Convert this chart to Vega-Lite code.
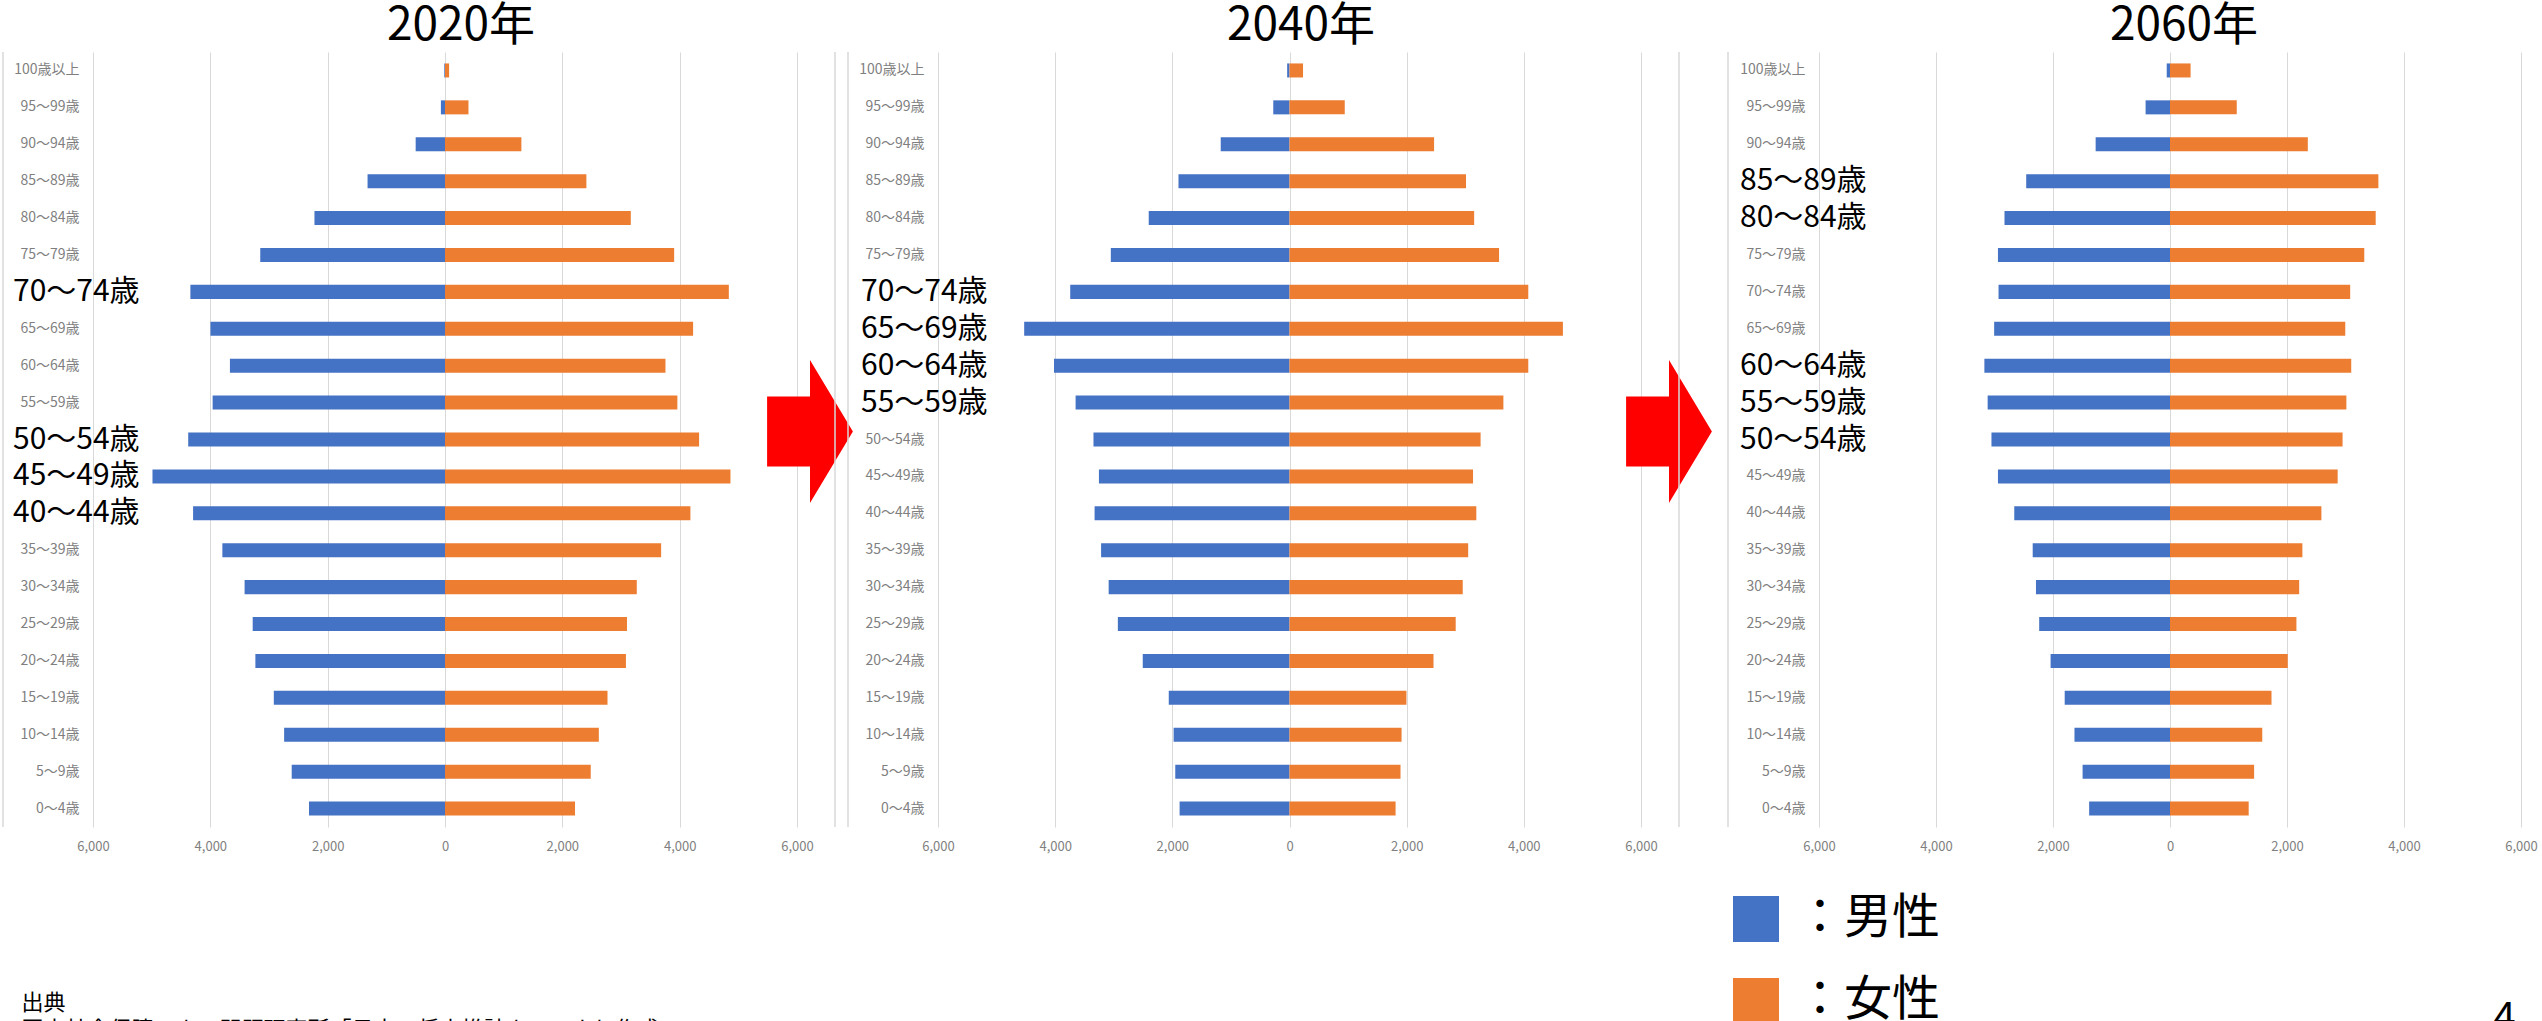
{
  "$schema": "https://vega.github.io/schema/vega-lite/v6.json",
  "autosize": {"type": "none"},
  "padding": {"left": 93, "top": 52, "right": 2449, "bottom": 194},
  "background": "white",
  "config": {
    "font": "Noto Sans CJK JP",
    "view": {"stroke": null},
    "title": {"fontSize": 46, "fontWeight": "normal", "color": "black", "baseline": "alphabetic", "offset": 1, "anchor": "middle", "frame": "group"}
  },
  "datasets": {
    "pop": [
      {"year": 2020, "age": "100歳以上", "sex": "男性", "value": -12},
      {"year": 2020, "age": "100歳以上", "sex": "女性", "value": 70},
      {"year": 2020, "age": "95～99歳", "sex": "男性", "value": -70},
      {"year": 2020, "age": "95～99歳", "sex": "女性", "value": 400},
      {"year": 2020, "age": "90～94歳", "sex": "男性", "value": -500},
      {"year": 2020, "age": "90～94歳", "sex": "女性", "value": 1302},
      {"year": 2020, "age": "85～89歳", "sex": "男性", "value": -1320},
      {"year": 2020, "age": "85～89歳", "sex": "女性", "value": 2410},
      {"year": 2020, "age": "80～84歳", "sex": "男性", "value": -2225},
      {"year": 2020, "age": "80～84歳", "sex": "女性", "value": 3167},
      {"year": 2020, "age": "75～79歳", "sex": "男性", "value": -3149},
      {"year": 2020, "age": "75～79歳", "sex": "女性", "value": 3906},
      {"year": 2020, "age": "70～74歳", "sex": "男性", "value": -4340},
      {"year": 2020, "age": "70～74歳", "sex": "女性", "value": 4838},
      {"year": 2020, "age": "65～69歳", "sex": "男性", "value": -3998},
      {"year": 2020, "age": "65～69歳", "sex": "女性", "value": 4229},
      {"year": 2020, "age": "60～64歳", "sex": "男性", "value": -3666},
      {"year": 2020, "age": "60～64歳", "sex": "女性", "value": 3758},
      {"year": 2020, "age": "55～59歳", "sex": "男性", "value": -3961},
      {"year": 2020, "age": "55～59歳", "sex": "女性", "value": 3961},
      {"year": 2020, "age": "50～54歳", "sex": "男性", "value": -4377},
      {"year": 2020, "age": "50～54歳", "sex": "女性", "value": 4331},
      {"year": 2020, "age": "45～49歳", "sex": "男性", "value": -4986},
      {"year": 2020, "age": "45～49歳", "sex": "女性", "value": 4866},
      {"year": 2020, "age": "40～44歳", "sex": "男性", "value": -4294},
      {"year": 2020, "age": "40～44歳", "sex": "女性", "value": 4183},
      {"year": 2020, "age": "35～39歳", "sex": "男性", "value": -3795},
      {"year": 2020, "age": "35～39歳", "sex": "女性", "value": 3684},
      {"year": 2020, "age": "30～34歳", "sex": "男性", "value": -3416},
      {"year": 2020, "age": "30～34歳", "sex": "女性", "value": 3269},
      {"year": 2020, "age": "25～29歳", "sex": "男性", "value": -3278},
      {"year": 2020, "age": "25～29歳", "sex": "女性", "value": 3102},
      {"year": 2020, "age": "20～24歳", "sex": "男性", "value": -3232},
      {"year": 2020, "age": "20～24歳", "sex": "女性", "value": 3084},
      {"year": 2020, "age": "15～19歳", "sex": "男性", "value": -2918},
      {"year": 2020, "age": "15～19歳", "sex": "女性", "value": 2770},
      {"year": 2020, "age": "10～14歳", "sex": "男性", "value": -2742},
      {"year": 2020, "age": "10～14歳", "sex": "女性", "value": 2622},
      {"year": 2020, "age": "5～9歳", "sex": "男性", "value": -2613},
      {"year": 2020, "age": "5～9歳", "sex": "女性", "value": 2484},
      {"year": 2020, "age": "0～4歳", "sex": "男性", "value": -2318},
      {"year": 2020, "age": "0～4歳", "sex": "女性", "value": 2216},
      {"year": 2040, "age": "100歳以上", "sex": "男性", "value": -40},
      {"year": 2040, "age": "100歳以上", "sex": "女性", "value": 231},
      {"year": 2040, "age": "95～99歳", "sex": "男性", "value": -277},
      {"year": 2040, "age": "95～99歳", "sex": "女性", "value": 943},
      {"year": 2040, "age": "90～94歳", "sex": "男性", "value": -1174},
      {"year": 2040, "age": "90～94歳", "sex": "女性", "value": 2468},
      {"year": 2040, "age": "85～89歳", "sex": "男性", "value": -1895},
      {"year": 2040, "age": "85～89歳", "sex": "女性", "value": 3013},
      {"year": 2040, "age": "80～84歳", "sex": "男性", "value": -2403},
      {"year": 2040, "age": "80～84歳", "sex": "女性", "value": 3152},
      {"year": 2040, "age": "75～79歳", "sex": "男性", "value": -3050},
      {"year": 2040, "age": "75～79歳", "sex": "女性", "value": 3577},
      {"year": 2040, "age": "70～74歳", "sex": "男性", "value": -3743},
      {"year": 2040, "age": "70～74歳", "sex": "女性", "value": 4076},
      {"year": 2040, "age": "65～69歳", "sex": "男性", "value": -4529},
      {"year": 2040, "age": "65～69歳", "sex": "女性", "value": 4667},
      {"year": 2040, "age": "60～64歳", "sex": "男性", "value": -4020},
      {"year": 2040, "age": "60～64歳", "sex": "女性", "value": 4076},
      {"year": 2040, "age": "55～59歳", "sex": "男性", "value": -3651},
      {"year": 2040, "age": "55～59歳", "sex": "女性", "value": 3651},
      {"year": 2040, "age": "50～54歳", "sex": "男性", "value": -3346},
      {"year": 2040, "age": "50～54歳", "sex": "女性", "value": 3262},
      {"year": 2040, "age": "45～49歳", "sex": "男性", "value": -3253},
      {"year": 2040, "age": "45～49歳", "sex": "女性", "value": 3133},
      {"year": 2040, "age": "40～44歳", "sex": "男性", "value": -3327},
      {"year": 2040, "age": "40～44歳", "sex": "女性", "value": 3189},
      {"year": 2040, "age": "35～39歳", "sex": "男性", "value": -3216},
      {"year": 2040, "age": "35～39歳", "sex": "女性", "value": 3050},
      {"year": 2040, "age": "30～34歳", "sex": "男性", "value": -3087},
      {"year": 2040, "age": "30～34歳", "sex": "女性", "value": 2957},
      {"year": 2040, "age": "25～29歳", "sex": "男性", "value": -2930},
      {"year": 2040, "age": "25～29歳", "sex": "女性", "value": 2837},
      {"year": 2040, "age": "20～24歳", "sex": "男性", "value": -2505},
      {"year": 2040, "age": "20～24歳", "sex": "女性", "value": 2458},
      {"year": 2040, "age": "15～19歳", "sex": "男性", "value": -2061},
      {"year": 2040, "age": "15～19歳", "sex": "女性", "value": 1996},
      {"year": 2040, "age": "10～14歳", "sex": "男性", "value": -1978},
      {"year": 2040, "age": "10～14歳", "sex": "女性", "value": 1913},
      {"year": 2040, "age": "5～9歳", "sex": "男性", "value": -1950},
      {"year": 2040, "age": "5～9歳", "sex": "女性", "value": 1895},
      {"year": 2040, "age": "0～4歳", "sex": "男性", "value": -1876},
      {"year": 2040, "age": "0～4歳", "sex": "女性", "value": 1811},
      {"year": 2060, "age": "100歳以上", "sex": "男性", "value": -56},
      {"year": 2060, "age": "100歳以上", "sex": "女性", "value": 352},
      {"year": 2060, "age": "95～99歳", "sex": "男性", "value": -417},
      {"year": 2060, "age": "95～99歳", "sex": "女性", "value": 1141},
      {"year": 2060, "age": "90～94歳", "sex": "男性", "value": -1271},
      {"year": 2060, "age": "90～94歳", "sex": "女性", "value": 2356},
      {"year": 2060, "age": "85～89歳", "sex": "男性", "value": -2458},
      {"year": 2060, "age": "85～89歳", "sex": "女性", "value": 3562},
      {"year": 2060, "age": "80～84歳", "sex": "男性", "value": -2829},
      {"year": 2060, "age": "80～84歳", "sex": "女性", "value": 3516},
      {"year": 2060, "age": "75～79歳", "sex": "男性", "value": -2941},
      {"year": 2060, "age": "75～79歳", "sex": "女性", "value": 3321},
      {"year": 2060, "age": "70～74歳", "sex": "男性", "value": -2931},
      {"year": 2060, "age": "70～74歳", "sex": "女性", "value": 3080},
      {"year": 2060, "age": "65～69歳", "sex": "男性", "value": -3006},
      {"year": 2060, "age": "65～69歳", "sex": "女性", "value": 2996},
      {"year": 2060, "age": "60～64歳", "sex": "男性", "value": -3173},
      {"year": 2060, "age": "60～64歳", "sex": "女性", "value": 3098},
      {"year": 2060, "age": "55～59歳", "sex": "男性", "value": -3117},
      {"year": 2060, "age": "55～59歳", "sex": "女性", "value": 3015},
      {"year": 2060, "age": "50～54歳", "sex": "男性", "value": -3052},
      {"year": 2060, "age": "50～54歳", "sex": "女性", "value": 2950},
      {"year": 2060, "age": "45～49歳", "sex": "男性", "value": -2941},
      {"year": 2060, "age": "45～49歳", "sex": "女性", "value": 2866},
      {"year": 2060, "age": "40～44歳", "sex": "男性", "value": -2662},
      {"year": 2060, "age": "40～44歳", "sex": "女性", "value": 2588},
      {"year": 2060, "age": "35～39歳", "sex": "男性", "value": -2347},
      {"year": 2060, "age": "35～39歳", "sex": "女性", "value": 2263},
      {"year": 2060, "age": "30～34歳", "sex": "男性", "value": -2291},
      {"year": 2060, "age": "30～34歳", "sex": "女性", "value": 2208},
      {"year": 2060, "age": "25～29歳", "sex": "男性", "value": -2236},
      {"year": 2060, "age": "25～29歳", "sex": "女性", "value": 2161},
      {"year": 2060, "age": "20～24歳", "sex": "男性", "value": -2041},
      {"year": 2060, "age": "20～24歳", "sex": "女性", "value": 2013},
      {"year": 2060, "age": "15～19歳", "sex": "男性", "value": -1800},
      {"year": 2060, "age": "15～19歳", "sex": "女性", "value": 1735},
      {"year": 2060, "age": "10～14歳", "sex": "男性", "value": -1633},
      {"year": 2060, "age": "10～14歳", "sex": "女性", "value": 1577},
      {"year": 2060, "age": "5～9歳", "sex": "男性", "value": -1494},
      {"year": 2060, "age": "5～9歳", "sex": "女性", "value": 1438},
      {"year": 2060, "age": "0～4歳", "sex": "男性", "value": -1382},
      {"year": 2060, "age": "0～4歳", "sex": "女性", "value": 1345}
    ],
    "notes": [
      {"year": 2020, "age": "70～74歳"},
      {"year": 2020, "age": "50～54歳"},
      {"year": 2020, "age": "45～49歳"},
      {"year": 2020, "age": "40～44歳"},
      {"year": 2040, "age": "70～74歳"},
      {"year": 2040, "age": "65～69歳"},
      {"year": 2040, "age": "60～64歳"},
      {"year": 2040, "age": "55～59歳"},
      {"year": 2060, "age": "85～89歳"},
      {"year": 2060, "age": "80～84歳"},
      {"year": 2060, "age": "60～64歳"},
      {"year": 2060, "age": "55～59歳"},
      {"year": 2060, "age": "50～54歳"}
    ],
    "arrows": [
      {"year": 2020, "age": "50～54歳"},
      {"year": 2040, "age": "50～54歳"}
    ]
  },
  "spacing": 141,
  "bounds": "flush",
  "hconcat": [
    {
      "width": 704,
      "height": 775,
      "title": {"text": "2020年", "dx": 16},
      "layer": [
        {
          "data": {"name": "pop"},
          "transform": [{"filter": "datum.year == 2020"}],
          "mark": {"type": "bar"},
          "encoding": {
            "y": {"field": "age", "type": "nominal", "scale": {"domain": ["100歳以上","95～99歳","90～94歳","85～89歳","80～84歳","75～79歳","70～74歳","65～69歳","60～64歳","55～59歳","50～54歳","45～49歳","40～44歳","35～39歳","30～34歳","25～29歳","20～24歳","15～19歳","10～14歳","5～9歳","0～4歳"], "paddingInner": 0.62, "paddingOuter": 0.31},
              "axis": {"title": null, "domain": false, "ticks": false, "grid": false, "labelColor": "#7f7f7f", "labelFontSize": 14, "labelPadding": 14, "labelOverlap": false, "labelBound": false, "labelExpr": "indexof(['70～74歳','50～54歳','45～49歳','40～44歳'], datum.value) >= 0 ? '' : datum.value"}},
            "x": {"field": "value", "type": "quantitative", "scale": {"domain": [-6000, 6000], "nice": false},
              "axis": {"values": [-6000,-4000,-2000,0,2000,4000,6000], "labelExpr": "format(abs(datum.value), ',')", "grid": true, "gridColor": "#d9d9d9", "domain": false, "ticks": false, "labelColor": "#7f7f7f", "labelFontSize": 13, "labelPadding": 13, "labelFlush": false, "labelOverlap": false,
                "title": ["出典", "国立社会保障・人口問題研究所「日本の将来推計人口」より作成"], "titleX": -72, "titleY": 182, "titleAlign": "left", "titleBaseline": "alphabetic", "titleFontSize": 22, "titleFontWeight": "normal", "titleColor": "black", "titleLineHeight": 27}},
            "color": {"field": "sex", "type": "nominal", "scale": {"domain": ["男性", "女性"], "range": ["#4472C4", "#ED7D31"]},
              "legend": {"orient": "none", "legendX": 1639, "legendY": 843, "title": null, "symbolType": "square", "symbolSize": 2116, "symbolStrokeWidth": 0, "symbolOpacity": 1, "labelFontSize": 48, "labelColor": "black", "labelOffset": 16, "rowPadding": 34, "padding": 0, "direction": "vertical", "labelExpr": "'：' + datum.label"}}
          }
        },
        {
          "data": {"name": "notes"},
          "transform": [{"filter": "datum.year == 2020"}],
          "mark": {"type": "text", "align": "left", "baseline": "middle", "dx": -80, "fontSize": 30, "color": "black"},
          "encoding": {"y": {"field": "age", "type": "nominal"}, "x": {"datum": -6000}, "text": {"field": "age"}}
        },
        {
          "data": {"name": "arrows"},
          "transform": [{"filter": "datum.year == 2020"}],
          "mark": {"type": "point", "shape": "M -0.6 -0.49 L 0 -0.49 L 0 -1 L 0.6 0 L 0 1 L 0 0.49 L -0.6 0.49 Z", "size": 20449, "filled": true, "color": "#FF0000", "opacity": 1, "xOffset": 13, "yOffset": -8},
          "encoding": {"y": {"field": "age", "type": "nominal"}, "x": {"datum": 6000}}
        },
        {
          "data": {"values": [{"side": "left"}]},
          "mark": {"type": "rule", "color": "#d9d9d9", "strokeWidth": 1.5, "xOffset": -90},
          "encoding": {"x": {"datum": -6000}}
        },
        {
          "data": {"values": [{"side": "right"}]},
          "mark": {"type": "rule", "color": "#d9d9d9", "strokeWidth": 1.5, "xOffset": 38},
          "encoding": {"x": {"datum": 6000}}
        }
      ]
    },
    {
      "width": 740,
      "height": 775,
      "title": {"text": "2040年", "dx": -7},
      "layer": [
        {
          "data": {"name": "pop"},
          "transform": [{"filter": "datum.year == 2040"}],
          "mark": {"type": "bar"},
          "encoding": {
            "y": {"field": "age", "type": "nominal", "scale": {"domain": ["100歳以上","95～99歳","90～94歳","85～89歳","80～84歳","75～79歳","70～74歳","65～69歳","60～64歳","55～59歳","50～54歳","45～49歳","40～44歳","35～39歳","30～34歳","25～29歳","20～24歳","15～19歳","10～14歳","5～9歳","0～4歳"], "paddingInner": 0.62, "paddingOuter": 0.31},
              "axis": {"title": null, "domain": false, "ticks": false, "grid": false, "labelColor": "#7f7f7f", "labelFontSize": 14, "labelPadding": 14, "labelOverlap": false, "labelBound": false, "labelExpr": "indexof(['70～74歳','65～69歳','60～64歳','55～59歳'], datum.value) >= 0 ? '' : datum.value"}},
            "x": {"field": "value", "type": "quantitative", "scale": {"domain": [-6000, 6000], "nice": false, "range": [0, 703]},
              "axis": {"values": [-6000,-4000,-2000,0,2000,4000,6000], "labelExpr": "format(abs(datum.value), ',')", "grid": true, "gridColor": "#d9d9d9", "domain": false, "ticks": false, "labelColor": "#7f7f7f", "labelFontSize": 13, "labelPadding": 13, "labelFlush": false, "labelOverlap": false, "title": null}},
            "color": {"field": "sex", "type": "nominal", "scale": {"domain": ["男性", "女性"], "range": ["#4472C4", "#ED7D31"]},
              "legend": {"orient": "none", "legendX": 1639, "legendY": 843, "title": null, "symbolType": "square", "symbolSize": 2116, "symbolStrokeWidth": 0, "symbolOpacity": 1, "labelFontSize": 48, "labelColor": "black", "labelOffset": 16, "rowPadding": 34, "padding": 0, "direction": "vertical", "labelExpr": "'：' + datum.label"}}
          }
        },
        {
          "data": {"name": "notes"},
          "transform": [{"filter": "datum.year == 2040"}],
          "mark": {"type": "text", "align": "left", "baseline": "middle", "dx": -77, "fontSize": 30, "color": "black"},
          "encoding": {"y": {"field": "age", "type": "nominal"}, "x": {"datum": -6000}, "text": {"field": "age"}}
        },
        {
          "data": {"name": "arrows"},
          "transform": [{"filter": "datum.year == 2040"}],
          "mark": {"type": "point", "shape": "M -0.6 -0.49 L 0 -0.49 L 0 -1 L 0.6 0 L 0 1 L 0 0.49 L -0.6 0.49 Z", "size": 20449, "filled": true, "color": "#FF0000", "opacity": 1, "xOffset": 28, "yOffset": -8},
          "encoding": {"y": {"field": "age", "type": "nominal"}, "x": {"datum": 6000}}
        },
        {
          "data": {"values": [{"side": "left"}]},
          "mark": {"type": "rule", "color": "#d9d9d9", "strokeWidth": 1.5, "xOffset": -90},
          "encoding": {"x": {"datum": -6000}}
        },
        {
          "data": {"values": [{"side": "right"}]},
          "mark": {"type": "rule", "color": "#d9d9d9", "strokeWidth": 1.5, "xOffset": 38},
          "encoding": {"x": {"datum": 6000}}
        }
      ]
    },
    {
      "width": 702,
      "height": 775,
      "title": {"text": "2060年", "dx": 14},
      "layer": [
        {
          "data": {"name": "pop"},
          "transform": [{"filter": "datum.year == 2060"}],
          "mark": {"type": "bar"},
          "encoding": {
            "y": {"field": "age", "type": "nominal", "scale": {"domain": ["100歳以上","95～99歳","90～94歳","85～89歳","80～84歳","75～79歳","70～74歳","65～69歳","60～64歳","55～59歳","50～54歳","45～49歳","40～44歳","35～39歳","30～34歳","25～29歳","20～24歳","15～19歳","10～14歳","5～9歳","0～4歳"], "paddingInner": 0.62, "paddingOuter": 0.31},
              "axis": {"title": null, "domain": false, "ticks": false, "grid": false, "labelColor": "#7f7f7f", "labelFontSize": 14, "labelPadding": 14, "labelOverlap": false, "labelBound": false, "labelExpr": "indexof(['85～89歳','80～84歳','60～64歳','55～59歳','50～54歳'], datum.value) >= 0 ? '' : datum.value"}},
            "x": {"field": "value", "type": "quantitative", "scale": {"domain": [-6000, 6000], "nice": false},
              "axis": {"values": [-6000,-4000,-2000,0,2000,4000,6000], "labelExpr": "format(abs(datum.value), ',')", "grid": true, "gridColor": "#d9d9d9", "domain": false, "ticks": false, "labelColor": "#7f7f7f", "labelFontSize": 13, "labelPadding": 13, "labelFlush": false, "labelOverlap": false,
                "title": "4", "titleX": 674, "titleY": 203, "titleAlign": "left", "titleBaseline": "alphabetic", "titleFontSize": 40, "titleFontWeight": "normal", "titleColor": "black"}},
            "color": {"field": "sex", "type": "nominal", "scale": {"domain": ["男性", "女性"], "range": ["#4472C4", "#ED7D31"]},
              "legend": {"orient": "none", "legendX": 1639, "legendY": 843, "title": null, "symbolType": "square", "symbolSize": 2116, "symbolStrokeWidth": 0, "symbolOpacity": 1, "labelFontSize": 48, "labelColor": "black", "labelOffset": 16, "rowPadding": 34, "padding": 0, "direction": "vertical", "labelExpr": "'：' + datum.label"}}
          }
        },
        {
          "data": {"name": "notes"},
          "transform": [{"filter": "datum.year == 2060"}],
          "mark": {"type": "text", "align": "left", "baseline": "middle", "dx": -79, "fontSize": 30, "color": "black"},
          "encoding": {"y": {"field": "age", "type": "nominal"}, "x": {"datum": -6000}, "text": {"field": "age"}}
        },
        {
          "data": {"values": [{"side": "left"}]},
          "mark": {"type": "rule", "color": "#d9d9d9", "strokeWidth": 1.5, "xOffset": -91},
          "encoding": {"x": {"datum": -6000}}
        }
      ]
    }
  ]
}
